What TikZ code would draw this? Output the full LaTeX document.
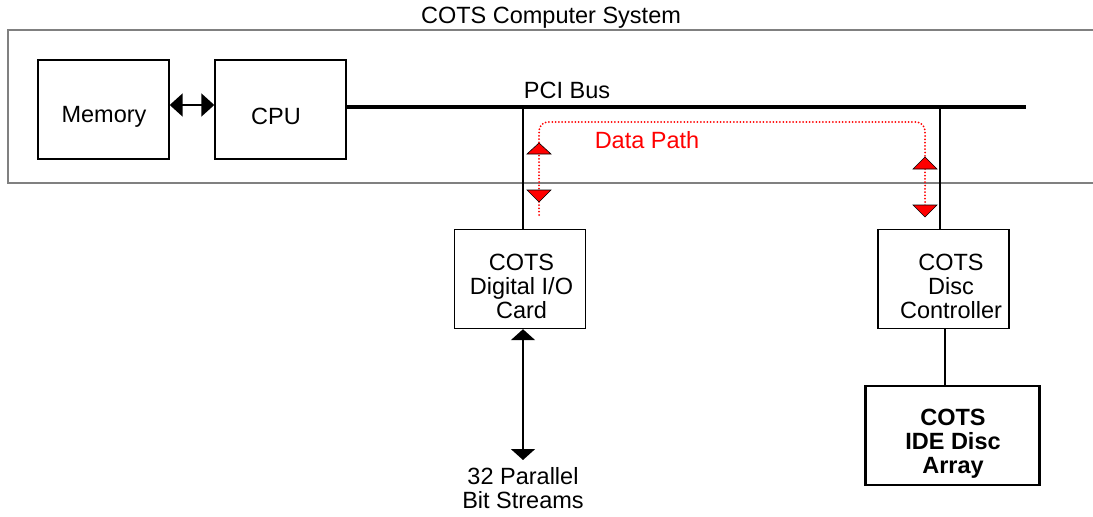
\documentclass[tikz,border=0pt]{standalone}
\usepackage{fontspec}
\setmainfont{Liberation Sans}
\usetikzlibrary{arrows.meta}
\begin{document}
\begin{tikzpicture}[x=1pt,y=-1pt,
  txt/.style={font=\fontsize{23.5}{24}\selectfont, align=center, inner sep=0pt},
  btxt/.style={txt, font=\fontsize{23.5}{24}\selectfont\bfseries},
  blk/.style={draw=black, line width=1.4pt, inner sep=0pt, minimum width=131pt, minimum height=99pt},
  bigblk/.style={draw=black, line width=2.2pt, inner sep=0pt, minimum width=174pt, minimum height=99pt},
  sysbox/.style={draw=black!50, line width=1.4pt},
  bus/.style={line width=3.5pt},
  tap/.style={line width=2pt},
  dblarrow/.style={line width=2pt, {Triangle[length=13pt,width=23pt]}-{Triangle[length=13pt,width=23pt]}},
  bitarrow/.style={line width=2pt, {Triangle[length=11pt,width=24pt]}-{Triangle[length=11pt,width=24pt]}},
  datapath/.style={red, line width=2pt, dash pattern=on 0pt off 3.3pt, line cap=round, rounded corners=9pt},
  tri/.style={fill=red, draw=black, line width=0.6pt, line join=miter}
]
\useasboundingbox (0,0) rectangle (1093,517);
\fill[white] (0,0) rectangle (1093,517);

% system rectangle (runs off right edge)
\draw[sysbox] (1100,30) -- (8,30) -- (8,183) -- (1100,183);
\node[txt] (title) at (551,18) {COTS Computer System};

% blocks
\node[blk] (mem) at (103.5,109.5) {};
\node[txt] (memt) at (104,116.5) {Memory};
\node[blk] (cpu) at (280.5,109.5) {};
\node[txt] (cput) at (276,116.5) {CPU};
\node[blk] (dio) at (520,279) {};
\node[txt] (diot) at (521.5,286) {COTS\\Digital I/O\\Card};
\node[blk] (ctl) at (943.5,279) {};
\node[txt] (ctlt) at (951,286) {COTS\\Disc\\Controller};
\node[bigblk] (ide) at (952.5,435.5) {};
\node[btxt] (idet) at (953,443.5) {COTS\\IDE Disc\\Array};

% memory <-> cpu
\draw[dblarrow] (mem.east |- 0,105) -- (cpu.west |- 0,105);

% PCI bus
\coordinate (busL) at (346,107);
\coordinate (busR) at (1026,107);
\draw[bus] (busL) -- (busR);
\node[txt] (pci) at (567,90) {PCI Bus};

\coordinate (tap1) at (523,107);
\coordinate (tap2) at (940,107);
\draw[tap] (tap1) -- (tap1 |- dio.north);
\draw[tap] (tap2) -- (tap2 |- ctl.north);

% controller -> IDE
\coordinate (ctlb) at (945,329);
\draw[tap] (ctlb) -- (ctlb |- ide.north);

% bit streams
\coordinate (bitend) at (523,460);
\draw[bitarrow] (dio.south -| bitend) -- (bitend);
\node[txt] (bits) at (523,488) {32 Parallel\\Bit Streams};

% data path
\coordinate (dpL) at (539,215);
\coordinate (dpR) at (925,217);
\draw[datapath] (dpL) -- (539,122) -- (925,122) -- (dpR);
\node[txt, text=red] (dp) at (647,140) {Data Path};

% triangles on data path
\filldraw[tri] (527,154) -- (539,143) -- (551,154) -- cycle;
\filldraw[tri] (527,190) -- (539,202) -- (551,190) -- cycle;
\filldraw[tri] (913,169) -- (925,157) -- (937,169) -- cycle;
\filldraw[tri] (913,205) -- (925,217) -- (937,205) -- cycle;
\end{tikzpicture}
\end{document}
